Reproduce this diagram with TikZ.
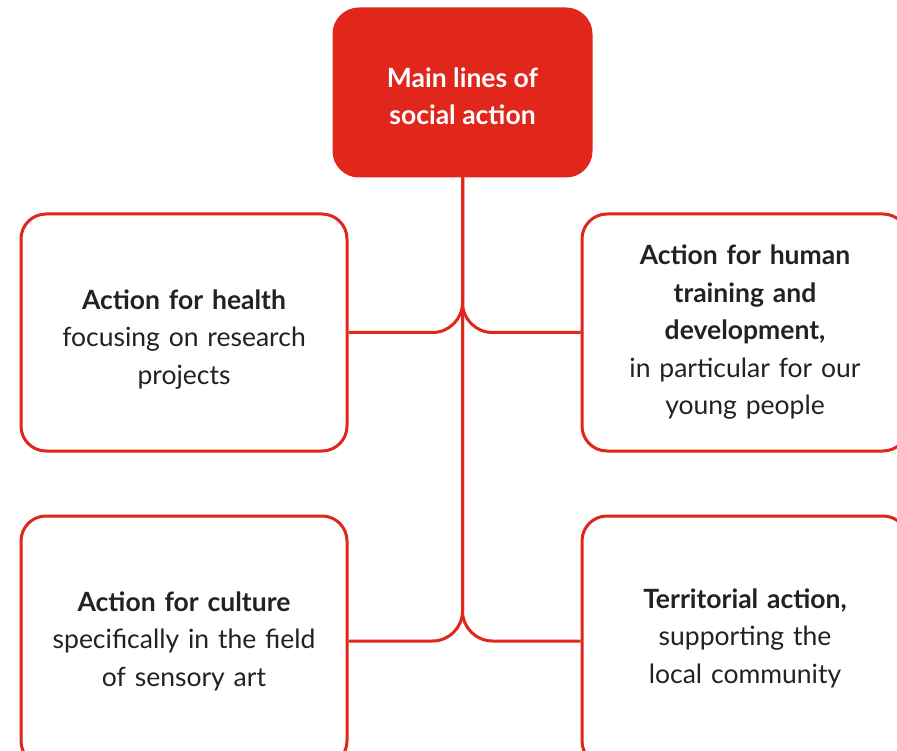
\documentclass[tikz,border=0pt]{standalone}
\usepackage{fontspec}
\setmainfont{Lato}
\definecolor{actionred}{HTML}{E1261C}
\definecolor{bodytext}{HTML}{222222}
% extra room above the first line / below the last line of a box text
\newcommand{\padtop}[2]{\raisebox{0pt}[\dimexpr\height+#1\relax]{#2}}
\newcommand{\padbottom}[2]{\raisebox{0pt}[\height][\dimexpr\depth+#1\relax]{#2}}

\begin{document}
\begin{tikzpicture}[x=1pt, y=-1pt, line width=3pt,
  font=\fontsize{26.5}{37.5}\selectfont,
  headbox/.style={draw=actionred, fill=actionred, rounded corners=25pt,
    minimum width=257pt, minimum height=167pt, text=white, align=center, font=\fontsize{26.5}{37.5}\selectfont\bfseries},
  linebox/.style={draw=actionred, fill=white, rounded corners=25pt,
    minimum width=326pt, text width=310pt, text=bodytext, align=center},
  branch/.style={draw=actionred, rounded corners=30pt}]
\useasboundingbox (0,0) rectangle (897,751);
\node[headbox] (main) at (462.5,92.5) {\padtop{8pt}{Main lines of}\\social action};
\node[linebox, minimum height=237pt] (health) at (184,332.5) {\padtop{14pt}{\textbf{Action for health}}\\focusing on research\\projects};
\node[linebox, minimum height=237pt] (human) at (745,332.5) {\textbf{Action for human}\\\textbf{training and}\\\textbf{development,}\\in particular for our\\young people};
\node[linebox, minimum height=250pt] (culture) at (184,641) {\textbf{Action for culture}\\specifically in the field\\of sensory art};
\node[linebox, minimum height=250pt] (territory) at (745,641) {\textbf{Territorial action,}\\supporting the\\\padbottom{6pt}{local community}};
\draw[branch] (health.east) -| (main.south);
\draw[branch] (human.west) -| (main.south);
\draw[branch] (culture.east) -| (main.south);
\draw[branch] (territory.west) -| (main.south);
\end{tikzpicture}
\end{document}
